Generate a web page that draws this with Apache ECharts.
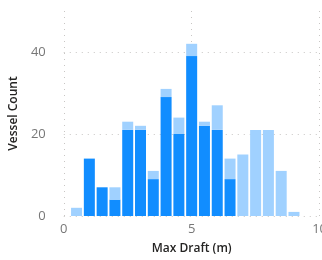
<!DOCTYPE html>
<html>
<head>
<meta charset="utf-8">
<script src="https://cdn.jsdelivr.net/npm/echarts@6/dist/echarts.min.js"></script>
<style>
html,body{margin:0;padding:0;background:#fff;overflow:hidden;}
#main{width:330px;height:260px;}
</style>
</head>
<body>
<div id="main"></div>
<script>
// bin centres (m) and counts
var draftBins = ['0','0.5','1','1.5','2','2.5','3','3.5','4','4.5','5','5.5','6','6.5','7','7.5','8','8.5','9','9.5','10'];
var darkCounts = [0,0,14,7,4,21,21,9,29,20,39,22,21,9,0,0,0,0,0,0,0];
var lightCounts = [0,2,0,0,3,2,1,2,2,4,3,1,6,5,15,21,21,11,1,0,0];
var xTicks = [0,5,10];
var yTicks = [0,20,40];

var font = "'Segoe UI', 'Open Sans', sans-serif";

var myChart = echarts.init(document.getElementById('main'), null, {renderer:'canvas'});

var dots = { color: '#C8C6C4', type: [1,5], width: 1 };

var option = {
	animation: false,
	grid: { left: 63, right: 7, top: 11, bottom: 42 },
	xAxis: [
		{
			type: 'value',
			min: xTicks[0], max: xTicks[xTicks.length-1], interval: 5,
			name: 'Max Draft (m)',
			nameLocation: 'middle',
			nameGap: 27,
			nameTextStyle: { color: '#252423', fontSize: 12, fontWeight: 600, fontFamily: font },
			axisLine: { show: false },
			axisTick: { show: false },
			axisLabel: { color: '#777777', fontSize: 13, fontFamily: font, margin: 7 },
			splitLine: { show: true, lineStyle: dots }
		},
		{
			// bars sit on this hidden category axis so they stack
			type: 'category',
			data: draftBins,
			boundaryGap: false,
			show: false
		}
	],
	yAxis: {
		type: 'value',
		min: 0, max: 50, interval: 20,
		name: 'Vessel Count',
		nameLocation: 'middle',
		nameGap: 38,
		nameTextStyle: { color: '#252423', fontSize: 12, fontWeight: 600, fontFamily: font },
		axisLine: { show: false },
		axisTick: { show: false },
		axisLabel: {
			color: '#777777', fontSize: 13, fontFamily: font, margin: 18,
			showMaxLabel: false,
			formatter: function(v){ return yTicks.indexOf(v) >= 0 ? String(v) : ''; }
		},
		splitLine: { show: true, showMaxLine: false, lineStyle: dots }
	},
	series: [
		{ name: 'dark', type: 'bar', xAxisIndex: 1, stack: 'n', barWidth: 11, data: darkCounts, itemStyle: { color: '#118DFF' } },
		{ name: 'light', type: 'bar', xAxisIndex: 1, stack: 'n', barWidth: 11, data: lightCounts, itemStyle: { color: '#A0D1FF' } }
	]
};
myChart.setOption(option);
</script>
</body>
</html>
